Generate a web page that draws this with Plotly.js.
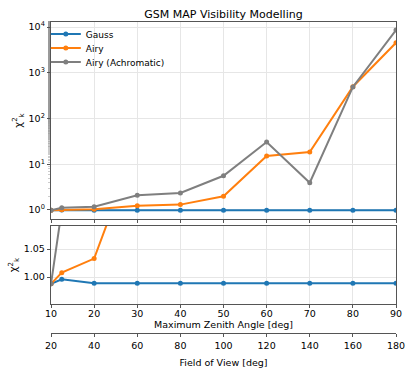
<!DOCTYPE html>
<html>
<head>
<meta charset="utf-8">
<script src="https://cdn.plot.ly/plotly-3.0.1.min.js"></script>
<style>
  html, body { margin: 0; padding: 0; background: #fff; }
  #chart { width: 415px; height: 374px; }
</style>
</head>
<body>
<div id="chart"></div>
<script>
// max zenith angle and matching field of view (deg)
const zenith = [10, 12.5, 20, 30, 40, 50, 60, 70, 80, 90];
const fov = [20, 25, 40, 60, 80, 100, 120, 140, 160, 180];

// reduced chi-squared per beam model
const gauss = [0.988, 0.996, 0.989, 0.989, 0.989, 0.989, 0.989, 0.989, 0.989, 0.989];
const airy = [0.988, 1.008, 1.033, 1.24, 1.31, 2.0, 15.1, 18.5, 495, 4540];
const airyAchromatic = [0.988, 1.12, 1.18, 2.1, 2.35, 5.6, 30.6, 3.95, 490, 8600];

const logTickVals = [1, 10, 100, 1000, 10000];
const logTickText = ['10<sup>0</sup>', '10<sup>1</sup>', '10<sup>2</sup>', '10<sup>3</sup>', '10<sup>4</sup>'];

const series = [
  { name: 'Gauss', y: gauss, color: '#1f77b4', legend: 'legend' },
  { name: 'Airy', y: airy, color: '#ff7f0e', legend: 'legend2' },
  { name: 'Airy (Achromatic)', y: airyAchromatic, color: '#7f7f7f', legend: 'legend3' }
];

const traces = [];
// top panel (log scale)
series.forEach(s => {
  traces.push({
    x: zenith, y: s.y, xaxis: 'x2', yaxis: 'y2',
    mode: 'lines+markers', type: 'scatter', name: s.name,
    line: { color: s.color, width: 2 },
    marker: { color: s.color, size: 5 },
    legend: s.legend
  });
});
// bottom panel (zoom around 1)
series.forEach(s => {
  traces.push({
    x: zenith, y: s.y, xaxis: 'x', yaxis: 'y',
    mode: 'lines+markers', type: 'scatter', name: s.name,
    line: { color: s.color, width: 2 },
    marker: { color: s.color, size: 5 },
    showlegend: false
  });
});
// invisible trace to carry the field-of-view axis
traces.push({
  x: fov, y: gauss, xaxis: 'x3', yaxis: 'y',
  mode: 'markers', type: 'scatter', opacity: 0,
  hoverinfo: 'skip', showlegend: false
});

const frame = '#555';
const gridc = '#e6e6e6';
const tickFont = { family: 'DejaVu Sans', size: 9.5, color: '#000' };

function legendAt(y) {
  return {
    x: -0.015, y: y, xanchor: 'left', yanchor: 'middle',
    bgcolor: 'rgba(0,0,0,0)', borderwidth: 0,
    font: { family: 'DejaVu Sans', size: 9, color: '#000' }
  };
}

const layout = {
  width: 415, height: 374,
  margin: { l: 51, r: 19, t: 22, b: 41 },
  paper_bgcolor: '#fff', plot_bgcolor: '#fff',
  font: { family: 'DejaVu Sans', size: 9.5, color: '#000' },
  title: {
    text: 'GSM MAP Visibility Modelling',
    font: { family: 'DejaVu Sans', size: 11, color: '#000' },
    x: 0.5, xref: 'paper', y: 0.962, yref: 'container', yanchor: 'middle'
  },
  showlegend: true,
  legend: legendAt(0.9614),
  legend2: legendAt(0.9164),
  legend3: legendAt(0.8714),
  xaxis: {
    domain: [0, 1], anchor: 'y', range: [10, 90],
    tickvals: [10, 20, 30, 40, 50, 60, 70, 80, 90],
    ticks: 'outside', ticklen: 3, tickcolor: frame, ticklabelstandoff: -3,
    showline: true, linecolor: frame, linewidth: 1.2, mirror: true,
    showgrid: true, gridcolor: gridc, zeroline: false,
    tickfont: tickFont,
    title: { text: 'Maximum Zenith Angle [deg]', font: { family: 'DejaVu Sans', size: 9.5 }, standoff: 0 }
  },
  yaxis: {
    domain: [0.093, 0.344], anchor: 'x', range: [0.952, 1.091],
    tickvals: [1.0, 1.05], ticktext: ['1.00', '1.05'],
    ticks: 'outside', ticklen: 3, tickcolor: frame,
    showline: true, linecolor: frame, linewidth: 1.2, mirror: true,
    showgrid: true, gridcolor: gridc, zeroline: false,
    tickfont: tickFont,
    title: { text: 'χ<sup>2</sup><sub>k</sub>', font: { family: 'DejaVu Sans', size: 10 }, standoff: 4 }
  },
  xaxis2: {
    domain: [0, 1], anchor: 'y2', matches: 'x',
    tickvals: [10, 20, 30, 40, 50, 60, 70, 80, 90],
    showticklabels: false,
    ticks: 'outside', ticklen: 3, tickcolor: frame,
    showline: true, linecolor: frame, linewidth: 1.2, mirror: true,
    showgrid: true, gridcolor: gridc, zeroline: false
  },
  yaxis2: {
    domain: [0.3666, 1], anchor: 'x2', type: 'log', range: [-0.197, 4.11],
    tickvals: logTickVals, ticktext: logTickText,
    ticks: 'outside', ticklen: 3, tickcolor: frame,
    minor: { ticks: 'outside', ticklen: 2, tickwidth: 0.5, tickcolor: '#999', showgrid: false },
    showline: true, linecolor: frame, linewidth: 1.2, mirror: true,
    showgrid: true, gridcolor: gridc, zeroline: false,
    tickfont: tickFont,
    title: { text: 'χ<sup>2</sup><sub>k</sub>', font: { family: 'DejaVu Sans', size: 10 }, standoff: 4 }
  },
  xaxis3: {
    overlaying: 'x', anchor: 'free', position: 0, side: 'bottom',
    range: [20, 180],
    tickvals: [20, 40, 60, 80, 100, 120, 140, 160, 180],
    ticks: 'outside', ticklen: 3, tickcolor: frame,
    showline: true, linecolor: frame, linewidth: 1.2,
    showgrid: false, zeroline: false,
    tickfont: tickFont,
    title: { text: 'Field of View [deg]', font: { family: 'DejaVu Sans', size: 9.5 }, standoff: 9 }
  }
};

Plotly.newPlot('chart', traces, layout, { displayModeBar: false, staticPlot: true });
</script>
</body>
</html>
